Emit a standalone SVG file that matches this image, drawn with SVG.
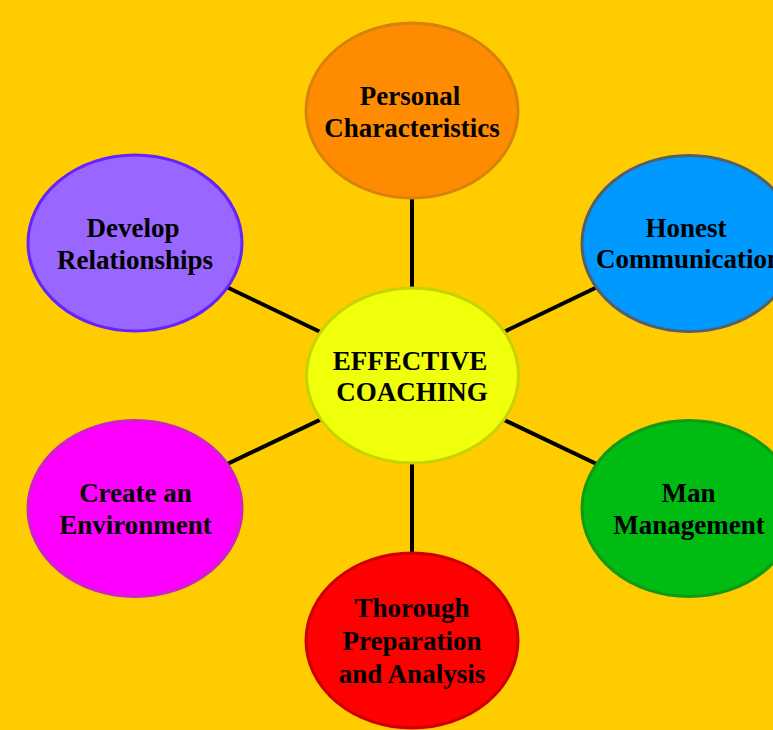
<svg xmlns="http://www.w3.org/2000/svg" width="773" height="730" viewBox="0 0 773 730">
<style>
.t{font-family:"Liberation Serif","Times New Roman",serif;font-weight:bold;font-size:27px;fill:#000;text-anchor:middle}
.n{stroke-width:3}
.c{stroke:#000;stroke-width:4;fill:none}
</style>
<rect width="773" height="730" fill="#FFCC00"/>
<g id="connectors">
<line class="c" x1="412" y1="376" x2="412" y2="110"/>
<line class="c" x1="412" y1="376" x2="412" y2="641"/>
<line class="c" x1="412" y1="376" x2="135" y2="243"/>
<line class="c" x1="412" y1="376" x2="689" y2="243"/>
<line class="c" x1="412" y1="376" x2="135" y2="508"/>
<line class="c" x1="412" y1="376" x2="689" y2="508"/>
</g>
<g id="center">
<ellipse class="n" cx="412.5" cy="375.5" rx="106" ry="87.5" fill="#F0FF0A" stroke="#C8D200"/>
<text class="t" x="410" y="370">EFFECTIVE</text>
<text class="t" x="412" y="401">COACHING</text>
</g>
<g id="personal">
<ellipse class="n" cx="412" cy="110.5" rx="106" ry="87.5" fill="#FF8C00" stroke="#D8820A"/>
<text class="t" x="410" y="105">Personal</text>
<text class="t" x="412" y="137">Characteristics</text>
</g>
<g id="develop">
<ellipse class="n" cx="135" cy="243" rx="107" ry="88" fill="#9966FF" stroke="#6622FF"/>
<text class="t" x="133" y="237">Develop</text>
<text class="t" x="135" y="269">Relationships</text>
</g>
<g id="honest">
<ellipse class="n" cx="689" cy="243.5" rx="107" ry="88" fill="#0099FF" stroke="#555F6A"/>
<text class="t" x="686" y="237">Honest</text>
<text class="t" x="689" y="268">Communication</text>
</g>
<g id="create">
<ellipse class="n" cx="135" cy="508.5" rx="107" ry="88" fill="#FF00FF" stroke="#CC22CC"/>
<text class="t" x="135.5" y="502">Create an</text>
<text class="t" x="135.5" y="534">Environment</text>
</g>
<g id="man">
<ellipse class="n" cx="689" cy="508.5" rx="107" ry="88" fill="#00BB11" stroke="#119911"/>
<text class="t" x="688.5" y="502">Man</text>
<text class="t" x="689" y="534">Management</text>
</g>
<g id="thorough">
<ellipse class="n" cx="412" cy="640.5" rx="106" ry="87.5" fill="#FF0000" stroke="#CC0000"/>
<text class="t" x="412" y="617">Thorough</text>
<text class="t" x="412" y="650">Preparation</text>
<text class="t" x="412" y="683">and Analysis</text>
</g>
</svg>
